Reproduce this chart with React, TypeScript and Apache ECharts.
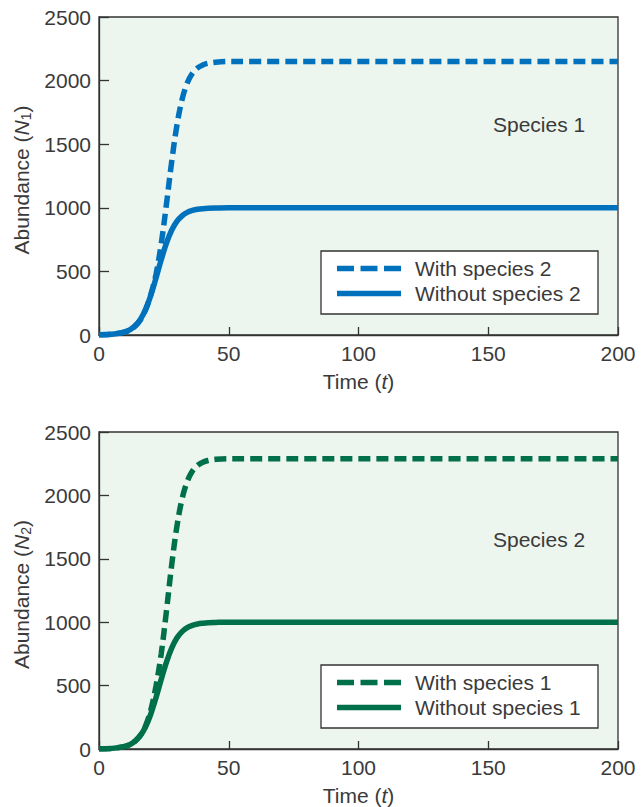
import React, { useEffect, useRef } from "react";
import * as echarts from "echarts";

// Time points (t)
const time = [0, 5, 10, 12, 14, 16, 18, 20, 22, 24, 26, 28, 30, 32, 34, 36, 38, 40, 42, 45, 50, 200];
// Species 1 abundance (N1)
const sp1With = [1, 6, 24, 42, 70, 120, 200, 320, 480, 720, 1030, 1361, 1646, 1851, 1981, 2058, 2100, 2123, 2136, 2145, 2150, 2150];
const sp1Without = [1, 6, 25, 43, 75, 125, 204, 314, 450, 593, 723, 823, 893, 937, 964, 979, 988, 993, 996, 998, 1000, 1000];
// Species 2 abundance (N2)
const sp2With = [1, 5, 21, 37, 64, 110, 185, 310, 500, 755, 1090, 1450, 1753, 1972, 2110, 2192, 2237, 2261, 2275, 2285, 2290, 2290];
const sp2Without = [1, 5, 21, 36, 63, 107, 177, 278, 407, 551, 686, 796, 875, 926, 957, 975, 986, 992, 996, 998, 1000, 1000];

const xTicks = { min: 0, max: 200, interval: 50 };
const yTicks = { min: 0, max: 2500, interval: 500 };

const legend1 = ["With species 2", "Without species 2"];
const legend2 = ["With species 1", "Without species 1"];

const BLUE = "#0071BC";
const GREEN = "#00704A";
const TEXT = "#3a3a3a";
const AXIS = "#333333";
const FONT = "Liberation Sans, Arial, Helvetica, sans-serif";
const FS = 21;

const pairs = (ys: number[]) => time.map((t, i) => [t, ys[i]]);

export default function App() {
  const ref = useRef<HTMLDivElement>(null);
  useEffect(() => {
    if (!ref.current) return;
    const chart = echarts.init(ref.current, undefined, { renderer: "svg" });

    const gridDefs = [
      { left: 99, top: 17, width: 519, height: 318 },
      { left: 99, top: 432, width: 519, height: 317 },
    ];
    const grid = gridDefs.map((g) => ({
      ...g,
      show: true,
      backgroundColor: "#ECF5EE",
      borderColor: AXIS,
      borderWidth: 1.3,
      containLabel: false,
    }));

    const plain = (v: number) => String(v);

    const xAxis = [0, 1].map((gi) => ({
      type: "value",
      gridIndex: gi,
      ...xTicks,
      name: "Time ({it|t})",
      nameLocation: "middle",
      nameGap: 36,
      nameTextStyle: {
        fontFamily: FONT,
        fontSize: FS,
        color: TEXT,
        rich: { it: { fontStyle: "italic", fontFamily: FONT, fontSize: FS, color: TEXT } },
      },
      axisLine: { show: true, onZero: false, lineStyle: { color: AXIS, width: 1.3 } },
      axisTick: { show: true, inside: true, length: 8, lineStyle: { color: AXIS, width: 1.3 } },
      axisLabel: { margin: 8, fontFamily: FONT, fontSize: FS, color: TEXT, formatter: plain },
      splitLine: { show: false },
    }));

    const yAxis = [0, 1].map((gi) => ({
      type: "value",
      gridIndex: gi,
      ...yTicks,
      name: `Abundance ({it|N}{sub|${gi + 1}})`,
      nameLocation: "middle",
      nameGap: 62,
      nameTextStyle: {
        fontFamily: FONT,
        fontSize: FS,
        color: TEXT,
        lineHeight: 24,
        padding: [0, 0, 0, -8],
        rich: {
          it: { fontStyle: "italic", fontFamily: FONT, fontSize: FS, color: TEXT, lineHeight: 24 },
          sub: { fontFamily: FONT, fontSize: 14, color: TEXT, lineHeight: 14, verticalAlign: "bottom" },
        },
      },
      axisLine: { show: true, onZero: false, lineStyle: { color: AXIS, width: 1.3 } },
      axisTick: { show: true, inside: true, length: 10, lineStyle: { color: AXIS, width: 1.3 } },
      axisLabel: { margin: 8, fontFamily: FONT, fontSize: FS, color: TEXT, formatter: plain },
      splitLine: { show: false },
    }));

    const mk = (name: string, data: number[], gi: number, color: string, dashed: boolean) => ({
      type: "line",
      name,
      xAxisIndex: gi,
      yAxisIndex: gi,
      data: pairs(data),
      showSymbol: false,
      symbol: "none",
      smooth: 0.35,
      clip: false,
      z: dashed ? 3 : 2,
      lineStyle: { color, width: 5.5, type: dashed ? [12, 6] : "solid", cap: "butt" },
    });

    const series = [
      mk(legend1[1], sp1Without, 0, BLUE, false),
      mk(legend1[0], sp1With, 0, BLUE, true),
      mk(legend2[1], sp2Without, 1, GREEN, false),
      mk(legend2[0], sp2With, 1, GREEN, true),
    ];

    const legendBox = (top: number, color: string, labels: string[]) => ({
      type: "group",
      children: [
        {
          type: "rect",
          shape: { x: 321, y: top, width: 277, height: 63 },
          style: { fill: "#ffffff", stroke: AXIS, lineWidth: 1.3 },
          z: 10,
        },
        {
          type: "line",
          shape: { x1: 337, y1: top + 17.5, x2: 401, y2: top + 17.5 },
          style: { stroke: color, lineWidth: 5.5, lineDash: [17, 6.5] },
          z: 11,
        },
        {
          type: "line",
          shape: { x1: 337, y1: top + 42.5, x2: 401, y2: top + 42.5 },
          style: { stroke: color, lineWidth: 5.5 },
          z: 11,
        },
        {
          type: "text",
          x: 415,
          y: top + 17.5,
          style: { text: labels[0], fontFamily: FONT, fontSize: FS, fill: TEXT, verticalAlign: "middle" },
          z: 11,
        },
        {
          type: "text",
          x: 415,
          y: top + 42.5,
          style: { text: labels[1], fontFamily: FONT, fontSize: FS, fill: TEXT, verticalAlign: "middle" },
          z: 11,
        },
      ],
    });

    const graphic = [
      legendBox(251, BLUE, legend1),
      legendBox(665, GREEN, legend2),
      {
        type: "text",
        x: 493,
        y: 124,
        style: { text: "Species 1", fontFamily: FONT, fontSize: FS, fill: TEXT, verticalAlign: "middle" },
        z: 11,
      },
      {
        type: "text",
        x: 493,
        y: 539,
        style: { text: "Species 2", fontFamily: FONT, fontSize: FS, fill: TEXT, verticalAlign: "middle" },
        z: 11,
      },
    ];

    chart.setOption({
      animation: false,
      backgroundColor: "#ffffff",
      grid,
      xAxis,
      yAxis,
      series,
      graphic,
    } as any);

    return () => chart.dispose();
  }, []);

  return (
    <div
      ref={ref}
      style={{ position: "absolute", left: 0, top: 0, width: 643, height: 807 }}
    />
  );
}
